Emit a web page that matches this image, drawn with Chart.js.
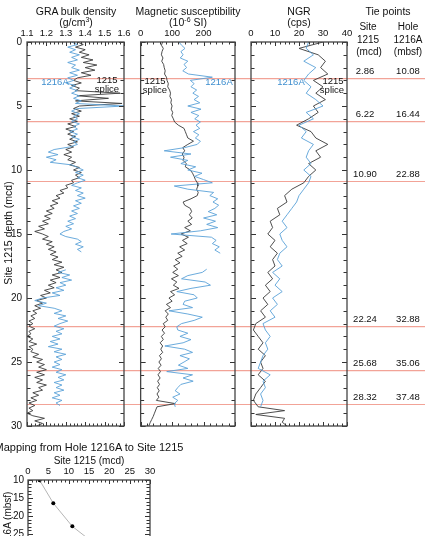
<!DOCTYPE html>
<html><head><meta charset="utf-8">
<script src="https://cdn.jsdelivr.net/npm/chart.js@4.4.0/dist/chart.umd.min.js"></script>
<style>
html,body{margin:0;padding:0;background:#fff;overflow:hidden;width:425px;height:536px;}
body{position:relative;font-family:"Liberation Sans",Arial,Helvetica,sans-serif;color:#111;}
canvas{position:absolute;}
.t{position:absolute;white-space:nowrap;transform:translate(-50%,-50%);line-height:1;z-index:5;}
.r{transform:translate(-50%,-50%) rotate(-90deg);}
.b{color:#3f8fcf;}
sup{font-size:7px;line-height:0;vertical-align:4px;}
</style></head><body>
<canvas id="c1" width="135" height="440" style="left:0;top:0"></canvas>
<canvas id="c2" width="110" height="440" style="left:135px;top:0"></canvas>
<canvas id="c3" width="180" height="440" style="left:245px;top:0"></canvas>
<canvas id="c4" width="200" height="160" style="left:0;top:440px"></canvas>

<div class="t" style="left:76px;top:11px;font-size:10.5px">GRA bulk density</div>
<div class="t" style="left:76px;top:22px;font-size:10.5px">(g/cm<sup>3</sup>)</div>
<div class="t" style="left:188px;top:11px;font-size:10.5px">Magnetic susceptibility</div>
<div class="t" style="left:188px;top:22px;font-size:10.5px">(10<sup>-6</sup> SI)</div>
<div class="t" style="left:299px;top:11px;font-size:10.5px">NGR</div>
<div class="t" style="left:299px;top:22px;font-size:10.5px">(cps)</div>
<div class="t" style="left:388px;top:11px;font-size:10.5px">Tie points</div>
<div class="t" style="left:368px;top:27px;font-size:10px">Site</div>
<div class="t" style="left:368px;top:40px;font-size:10px">1215</div>
<div class="t" style="left:369px;top:52px;font-size:10px">(mcd)</div>
<div class="t" style="left:408px;top:27px;font-size:10px">Hole</div>
<div class="t" style="left:408px;top:40px;font-size:10px">1216A</div>
<div class="t" style="left:408px;top:52px;font-size:10px">(mbsf)</div>
<div class="t r" style="left:8px;top:233px;font-size:10.5px">Site 1215 depth (mcd)</div>

<div class="t b" style="left:55px;top:82px;font-size:9.5px">1216A</div>
<div class="t" style="left:107px;top:80px;font-size:9.5px">1215</div>
<div class="t" style="left:107px;top:89px;font-size:9.5px">splice</div>
<div class="t" style="left:155px;top:81px;font-size:9.5px">1215</div>
<div class="t" style="left:155px;top:90px;font-size:9.5px">splice</div>
<div class="t b" style="left:219px;top:82px;font-size:9.5px">1216A</div>
<div class="t b" style="left:291px;top:82px;font-size:9.5px">1216A</div>
<div class="t" style="left:333px;top:81px;font-size:9.5px">1215</div>
<div class="t" style="left:332px;top:90px;font-size:9.5px">splice</div>

<div class="t" style="left:89px;top:447px;font-size:11px">Mapping from Hole 1216A to Site 1215</div>
<div class="t" style="left:89px;top:461px;font-size:10px">Site 1215 (mcd)</div>
<div class="t r" style="left:8px;top:533px;font-size:10px">Hole 1216A (mbsf)</div>

<script>
// ---------- DATA ----------
const depthTicks = [0,5,10,15,20,25,30];
const graTicks = [1.1,1.2,1.3,1.4,1.5,1.6];
const msTicks = [0,100,200];
const ngrTicks = [0,10,20,30,40];
const mapXTicks = [0,5,10,15,20,25,30];
const mapYTicks = [10,15,20,25,30,35,40];

const tieSite = [2.86, 6.22, 10.90, 22.24, 25.68, 28.32];
const tieHole = [10.08, 16.44, 22.88, 32.88, 35.06, 37.48];

const graDepth = [0,0.2,0.4,0.6,0.8,1,1.2,1.4,1.6,1.8,2,2.2,2.4,2.6,2.8,3,3.2,3.4,3.6,3.8,4,4.2,4.4,4.6,4.8,5,5.2,5.4,5.6,5.8,6,6.2,6.4,6.6,6.8,7,7.2,7.4,7.6,7.8,8,8.2,8.4,8.6,8.8,9,9.2,9.4,9.6,9.8,10,10.2,10.4,10.6,10.8,11,11.2,11.4,11.6,11.8,12,12.2,12.4,12.6,12.8,13,13.2,13.4,13.6,13.8,14,14.2,14.4,14.6,14.8,15,15.2,15.4,15.6,15.8,16,16.2,16.4,16.6,16.8,17,17.2,17.4,17.6,17.8,18,18.2,18.4,18.6,18.8,19,19.2,19.4,19.6,19.8,20,20.2,20.4,20.6,20.8,21,21.2,21.4,21.6,21.8,22,22.2,22.4,22.6,22.8,23,23.2,23.4,23.6,23.8,24,24.2,24.4,24.6,24.8,25,25.2,25.4,25.6,25.8,26,26.2,26.4,26.6,26.8,27,27.2,27.4,27.6,27.8,28,28.2,28.4,28.6,28.8,29,29.2,29.4,29.6,29.8,30];
const graSplice = [1.36,1.39,1.35,1.40,1.37,1.42,1.38,1.44,1.39,1.46,
 1.40,1.45,1.38,1.43,1.36,1.34,1.38,1.33,1.37,1.35,
 1.58,1.36,1.52,1.35,1.59,1.37,1.34,1.38,1.33,1.37,
 1.32,1.36,1.31,1.35,1.30,1.34,1.31,1.35,1.32,1.36,
 1.31,1.34,1.30,1.33,1.29,1.33,1.31,1.35,1.32,1.37,
 1.34,1.38,1.35,1.37,1.33,1.34,1.30,1.31,1.27,1.29,
 1.25,1.27,1.23,1.26,1.22,1.24,1.20,1.23,1.19,1.22,
 1.18,1.21,1.16,1.19,1.14,1.18,1.21,1.18,1.23,1.20,
 1.24,1.21,1.25,1.22,1.26,1.23,1.28,1.24,1.29,1.25,
 1.28,1.23,1.27,1.22,1.25,1.21,1.24,1.19,1.22,1.17,
 1.20,1.15,1.18,1.14,1.17,1.13,1.15,1.12,1.14,1.11,
 1.13,1.11,1.14,1.11,1.12,1.10,1.13,1.11,1.15,1.11,
 1.13,1.12,1.16,1.13,1.18,1.15,1.19,1.16,1.20,1.15,
 1.19,1.14,1.18,1.15,1.20,1.16,1.18,1.13,1.16,1.12,
 1.15,1.11,1.14,1.11,1.13,1.10,1.13,1.19,1.14,1.18,
 1.15];
const gra1216A = [1.33,1.36,1.31,1.35,1.32,1.37,1.33,1.36,1.31,1.35,
 1.33,1.37,1.32,1.36,1.31,1.34,1.30,1.35,1.32,1.36,
 1.33,1.37,1.34,1.38,1.35,1.60,1.36,1.33,1.37,1.34,
 1.36,1.33,1.37,1.34,1.36,1.32,1.36,1.33,1.37,1.34,
 1.36,1.32,1.24,1.21,1.26,1.20,1.25,1.22,1.33,1.36,
 1.39,1.35,1.39,1.36,1.40,1.36,1.33,1.38,1.35,1.39,
 1.36,1.40,1.35,1.38,1.34,1.37,1.33,1.36,1.32,1.35,
 1.31,1.34,1.30,1.33,1.29,1.27,1.30,1.36,1.38,1.35,
 1.39,1.36,1.38,null,null,null,null,null,null,1.30,
 1.26,1.32,1.28,1.33,1.27,1.30,1.25,1.29,1.23,1.27,
 1.18,1.14,1.20,1.16,1.24,1.28,1.24,1.30,1.26,1.31,
 1.27,1.24,1.29,1.25,1.28,1.23,1.27,1.22,1.26,1.21,
 1.28,1.24,1.30,1.25,1.28,1.24,1.27,1.23,1.28,1.25,
 1.30,1.26,1.29,1.24,1.28,1.25,1.29,1.24,1.27,1.23,
 1.28,1.25,1.27,null,null,null,null,null,null,null,
 null];

const msDepth = [0,0.25,0.5,0.75,1,1.25,1.5,1.75,2,2.25,2.5,2.75,3,3.25,3.5,3.75,4,4.25,4.5,4.75,5,5.25,5.5,5.75,6,6.25,6.5,6.75,7,7.25,7.5,7.75,8,8.25,8.5,8.75,9,9.25,9.5,9.75,10,10.25,10.5,10.75,11,11.25,11.5,11.75,12,12.25,12.5,12.75,13,13.25,13.5,13.75,14,14.25,14.5,14.75,15,15.25,15.5,15.75,16,16.25,16.5,16.75,17,17.25,17.5,17.75,18,18.25,18.5,18.75,19,19.25,19.5,19.75,20,20.25,20.5,20.75,21,21.25,21.5,21.75,22,22.25,22.5,22.75,23,23.25,23.5,23.75,24,24.25,24.5,24.75,25,25.25,25.5,25.75,26,26.25,26.5,26.75,27,27.25,27.5,27.75,28,28.25,28.5,28.75,29,29.25,29.5,29.75,30];
const msSplice = [70,66,72,68,66,71,67,73,
 75,78,76,82,84,88,86,92,
 95,93,98,96,100,97,102,99,
 104,108,120,138,142,146,150,168,
 150,134,140,132,138,135,145,142,
 158,165,170,174,180,182,178,183,
 180,160,135,140,158,162,155,164,
 150,162,140,158,128,152,133,148,
 124,140,118,132,110,125,105,118,
 102,120,98,115,104,122,95,108,
 90,100,82,95,78,88,80,86,
 72,78,68,76,66,72,62,70,
 64,70,60,66,58,65,56,63,
 55,62,54,60,53,59,52,58,
 50,110,52,48,44,40,35,30,
 26];
const ms1216A = [122,130,141,128,135,126,150,138,
 146,134,152,228,158,170,160,178,
 166,184,170,188,150,192,160,185,
 172,190,176,188,168,185,174,190,
 180,140,75,160,95,150,128,175,
 150,195,172,200,228,107,150,232,
 220,245,230,248,236,215,242,200,
 238,210,245,190,97,225,240,228,
 250,236,253,null,null,null,null,210,
 196,150,130,205,222,160,115,170,
 180,140,135,165,90,150,196,170,
 130,115,118,150,125,160,135,77,
 140,165,125,155,138,120,150,83,
 165,135,167,128,118,110,125,102,
 118,107,110,null,null,null,null,null,
 null];

const ngrDepth = [0,0.5,1,1.5,2,2.5,3,3.5,4,4.5,5,5.5,6,6.5,7,7.5,8,8.5,9,9.5,10,10.5,11,11.5,12,12.5,13,13.5,14,14.5,15,15.5,16,16.5,17,17.5,18,18.5,19,19.5,20,20.5,21,21.5,22,22.5,23,23.5,24,24.5,25,25.5,26,26.5,27,27.5,28,28.5,28.8,29.1,29.4,29.7,30];
const ngrSplice = [30,20,28,31,29,32,26,30,27,31,
 26,28,24,19,25,27,32,27,29,24,
 27,24,22,17,14,15,11,12,8,9,
 7,10,8,11,9,10,7,9,6,8,
 5,7,4,6,2,1,3,5,3,6,
 4,5,3,6,4,2,1,3,
 14,2,14,13,15];
const ngr1216A = [24,23,26,22,27,24,22,25,23,27,
 30,23,26,20,23,21,26,24,23,25,
 22,25,24,22,20,19,17,15,13,15,
 12,13,15,12,11,13,9,12,10,13,
 9,11,8,10,5,6,8,6,7,5,
 4,3,8,5,6,4,5,4,
 null,null,null,null,null];

// ---------- STYLE ----------
const FONT = '"Liberation Sans", Arial, Helvetica, sans-serif';
Chart.defaults.font.family = FONT;
Chart.defaults.color = '#111';
const GREY = '#3a3a3a';
const BLUE = '#5aa2d8';
const TIE = '#f2a397';

function pts(depth, vals){ return depth.map((d,i)=>({x: vals[i], y: d})); }

const frameTicks = {
  id: 'frameTicks',
  afterDraw(chart, args, o) {
    const {ctx, chartArea: a} = chart;
    const xs = chart.scales.x, ys = chart.scales.y;
    ctx.save();
    ctx.strokeStyle = '#333';
    ctx.lineWidth = 1;
    ctx.beginPath();
    const nx = Math.round((xs.max - xs.min)/o.xStep);
    for (let i=0;i<=nx;i++){
      const p = Math.round(xs.getPixelForValue(xs.min + i*o.xStep))+0.5;
      const L = (i % o.xEvery === 0) ? 4 : 2.5;
      ctx.moveTo(p,a.top); ctx.lineTo(p,a.top+L);
      ctx.moveTo(p,a.bottom); ctx.lineTo(p,a.bottom-L);
    }
    const ny = Math.round((ys.max - ys.min)/o.yStep);
    for (let i=0;i<=ny;i++){
      const p = Math.round(ys.getPixelForValue(ys.min + i*o.yStep))+0.5;
      const L = (i % o.yEvery === 0) ? 5 : 3.5;
      ctx.moveTo(a.left,p); ctx.lineTo(a.left+L,p);
      ctx.moveTo(a.right,p); ctx.lineTo(a.right-L,p);
    }
    ctx.stroke();
    ctx.lineWidth = 1.3;
    ctx.strokeStyle = '#444';
    ctx.strokeRect(a.left, a.top, a.right-a.left, a.bottom-a.top);
    ctx.restore();
  }
};

const tieLines = {
  id: 'tieLines',
  beforeDatasetsDraw(chart, args, o) {
    if (!o || !o.on) return;
    const {ctx, chartArea: a} = chart;
    const ys = chart.scales.y;
    const x0 = o.fromArea ? a.left : 0;
    ctx.save();
    ctx.strokeStyle = TIE;
    ctx.lineWidth = 1.2;
    ctx.beginPath();
    tieSite.forEach(d => {
      const p = ys.getPixelForValue(d);
      ctx.moveTo(x0, p); ctx.lineTo(chart.width, p);
    });
    ctx.stroke();
    ctx.restore();
  },
  afterDraw(chart, args, o) {
    if (!o || !o.labels) return;
    const {ctx} = chart;
    const ys = chart.scales.y;
    ctx.save();
    ctx.fillStyle = '#111';
    ctx.font = '9.5px ' + FONT;
    ctx.textAlign = 'center';
    ctx.textBaseline = 'middle';
    tieSite.forEach((d,i) => {
      const p = ys.getPixelForValue(d) - 7;
      ctx.fillText(d.toFixed(2), o.col1, p);
      ctx.fillText(tieHole[i].toFixed(2), o.col2, p);
    });
    ctx.restore();
  }
};

function makePanel(id, o) {
  return new Chart(document.getElementById(id), {
    type: 'scatter',
    data: { datasets: [
      { data: pts(o.depth, o.a), showLine: true, borderColor: BLUE, borderWidth: 0.9, pointRadius: 0, order: 0 },
      { data: pts(o.depth, o.s), showLine: true, borderColor: GREY, borderWidth: 0.9, pointRadius: 0, order: 1 }
    ]},
    options: {
      responsive: false, animation: false, events: [],
      layout: { padding: { top: 0, left: 0, right: o.padR, bottom: 14 } },
      plugins: {
        legend: { display: false }, tooltip: { enabled: false },
        frameTicks: { xStep: o.xMinor, xEvery: 5, yStep: 1, yEvery: 5 },
        tieLines: { on: true, fromArea: o.fromArea, labels: o.labels, col1: 120, col2: 163 }
      },
      scales: {
        x: { type: 'linear', position: 'top', min: o.xMin, max: o.xMax,
             grid: { display: false, drawTicks: false }, border: { display: false },
             afterBuildTicks: s => { s.ticks = o.xTicks.map(v => ({value: v})); },
             ticks: { padding: 3, font: { size: 9.5 }, color: '#111', callback: v => o.fmt(v) },
             afterFit: s => { s.height = 42; } },
        y: { type: 'linear', position: 'left', reverse: true, min: 0, max: 30,
             grid: { display: false, drawTicks: false }, border: { display: false },
             afterBuildTicks: s => { s.ticks = depthTicks.map(v => ({value: v})); },
             ticks: { display: o.yLabels, padding: 5, font: { size: 10 }, color: '#111' },
             afterFit: s => { s.width = o.yW; } }
      }
    },
    plugins: [frameTicks, tieLines]
  });
}

makePanel('c1', { depth: graDepth, s: graSplice, a: gra1216A, xMin: 1.1, xMax: 1.6, xTicks: graTicks, xMinor: 0.02,
  fmt: v => v.toFixed(1), yLabels: true, yW: 27, padR: 11, fromArea: true, labels: false });
makePanel('c2', { depth: msDepth, s: msSplice, a: ms1216A, xMin: 0, xMax: 300, xTicks: msTicks, xMinor: 20,
  fmt: v => String(v), yLabels: false, yW: 4, padR: 10, fromArea: false, labels: false });
makePanel('c3', { depth: ngrDepth, s: ngrSplice, a: ngr1216A, xMin: 0, xMax: 40, xTicks: ngrTicks, xMinor: 2,
  fmt: v => String(v), yLabels: false, yW: 6, padR: 78, fromArea: false, labels: true });

new Chart(document.getElementById('c4'), {
  type: 'scatter',
  data: { datasets: [{
    data: tieSite.map((s,i) => ({x: s, y: tieHole[i]})),
    showLine: true, borderColor: '#b5b5b5', borderWidth: 1,
    pointRadius: 2, pointBackgroundColor: '#000', pointBorderWidth: 0
  }]},
  options: {
    responsive: false, animation: false, events: [],
    layout: { padding: { top: 0, left: 0, right: 50, bottom: 12 } },
    plugins: { legend: { display: false }, tooltip: { enabled: false },
      frameTicks: { xStep: 1, xEvery: 5, yStep: 1, yEvery: 5 } },
    scales: {
      x: { type: 'linear', position: 'top', min: 0, max: 30,
           grid: { display: false, drawTicks: false }, border: { display: false },
           afterBuildTicks: s => { s.ticks = mapXTicks.map(v => ({value: v})); },
           ticks: { padding: 3, font: { size: 9.5 }, color: '#111' },
           afterFit: s => { s.height = 40; } },
      y: { type: 'linear', position: 'left', reverse: true, min: 10, max: 40,
           grid: { display: false, drawTicks: false }, border: { display: false },
           afterBuildTicks: s => { s.ticks = mapYTicks.map(v => ({value: v})); },
           ticks: { padding: 4, font: { size: 10 }, color: '#111' },
           afterFit: s => { s.width = 28; } }
    }
  },
  plugins: [frameTicks]
});
</script>
</body></html>
